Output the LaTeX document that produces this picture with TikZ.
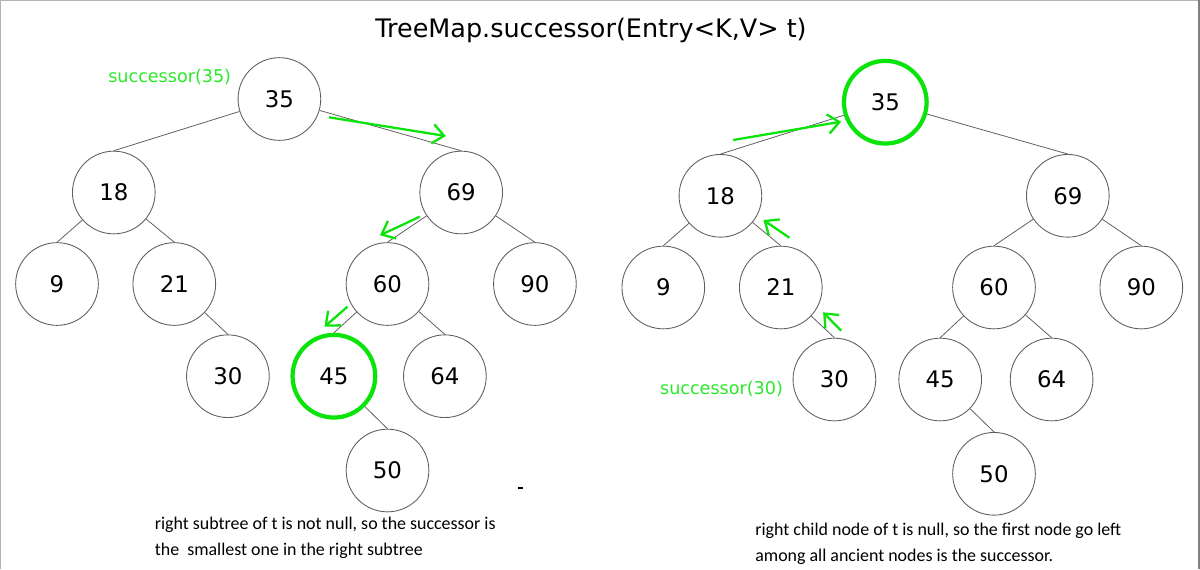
\documentclass[tikz,border=0pt]{standalone}
\usepackage{fontspec}
\setmainfont{DejaVu Sans}
\newfontfamily\notefont{Carlito}
\usepackage{xcolor}
\usetikzlibrary{arrows.meta}
\definecolor{walkgreen}{RGB}{10,228,10}
\definecolor{hintgreen}{RGB}{40,235,40}
\definecolor{ringgray}{RGB}{95,95,95}
\definecolor{framegray}{RGB}{180,180,180}

\begin{document}
\begin{tikzpicture}[x=0.02cm, y=-0.02cm]

% TikZ styles
\tikzset{
  treenode/.style={circle, draw=ringgray, line width=0.5pt, minimum size=1.654cm, inner sep=0pt, font=\fontsize{13}{15}\selectfont},
  found/.style={treenode, draw=walkgreen, line width=2.4pt},
  edge/.style={draw=ringgray, line width=0.45pt},
  walk/.style={-{Straight Barb[length=6.5pt, width=11pt]}, walkgreen, line width=1.3pt},
  hint/.style={text=hintgreen, font=\fontsize{10}{12}\selectfont},
  note/.style={anchor=west, inner sep=0pt, font=\notefont\fontsize{10.2}{12}\selectfont}
}

\useasboundingbox (0,0) rectangle (1200,569);
\draw[framegray, line width=0.6pt] (0,569) -- (0,0.3) -- (1199,0.3);
\draw[gray, line width=1.2pt] (1198.6,0) -- (1198.6,569);

\node[font=\fontsize{14.5}{17}\selectfont] (title) at (591,30) {TreeMap.successor(Entry<K,V> t)};

%==========================
% linker Baum: rechter Teilbaum
%==========================
\node[treenode] (l35) at (279.4, 99) {35};
\node[treenode] (l18) at (113.8,192.5) {18};
\node[treenode] (l69) at (461.2,192.5) {69};
\node[treenode] (l9)  at (57,  284) {9};
\node[treenode] (l21) at (174.3,284) {21};
\node[treenode] (l60) at (387.5,284) {60};
\node[treenode] (l90) at (534.9,284) {90};
\node[treenode] (l30) at (227.9,376.2) {30};
\node[found]    (l45) at (333.9,376.2) {45};
\node[treenode] (l64) at (444.9,376.2) {64};
\node[treenode] (l50) at (387.5,470.5) {50};

\draw[edge] (l35) -- (l18.north);
\draw[edge] (l35) -- (l69.north);
\draw[edge] (l18) -- (l9.north);
\draw[edge] (l18) -- (l21.north);
\draw[edge] (l21) -- (l30.north);
\draw[edge] (l69) -- (l60.north);
\draw[edge] (l69) -- (l90.north);
\draw[edge] (l60) -- (l45.north);
\draw[edge] (l60) -- (l64.north);
\draw[edge] (l45) -- (l50.north);

\node[hint] (lhint) at (169.7,76.7) {successor(35)};

\coordinate (la1) at (329,117.3);   \coordinate (lb1) at (445.8,136);
\coordinate (la2) at (419.8,216.7); \coordinate (lb2) at (380,235.3);
\coordinate (la3) at (347.5,306.7); \coordinate (lb3) at (324.5,326.7);
\draw[walk] (la1) -- (lb1);
\draw[walk] (la2) -- (lb2);
\draw[walk] (la3) -- (lb3);

\draw[line width=0.9pt] (518,488) -- (522.5,488);

\node[note] (lnote1) at (154.5,525) {right subtree of t is not null, so the successor is};
\node[note] (lnote2) at (154.5,551) {the\ \ smallest one in the right subtree};

%==========================
% rechter Baum: Vorfahren
%==========================
\node[found]    (r35) at (885.3,102.2) {35};
\node[treenode] (r18) at (720.4,195.8) {18};
\node[treenode] (r69) at (1067.8,195.8) {69};
\node[treenode] (r9)  at (663.3,287.5) {9};
\node[treenode] (r21) at (780.8,287.5) {21};
\node[treenode] (r60) at (994,  287.5) {60};
\node[treenode] (r90) at (1141.3,287.5) {90};
\node[treenode] (r30) at (834.4,379.5) {30};
\node[treenode] (r45) at (940.2,379.5) {45};
\node[treenode] (r64) at (1051.6,379.5) {64};
\node[treenode] (r50) at (994,  473.8) {50};

\draw[edge] (r35) -- (r18.north);
\draw[edge] (r35) -- (r69.north);
\draw[edge] (r18) -- (r9.north);
\draw[edge] (r18) -- (r21.north);
\draw[edge] (r21) -- (r30.north);
\draw[edge] (r69) -- (r60.north);
\draw[edge] (r69) -- (r90.north);
\draw[edge] (r60) -- (r45.north);
\draw[edge] (r60) -- (r64.north);
\draw[edge] (r45) -- (r50.north);

\node[hint] (rhint) at (721.5,389) {successor(30)};

\coordinate (ra1) at (733.2,140);   \coordinate (rb1) at (841.1,121.7);
\coordinate (ra2) at (789.4,237.7); \coordinate (rb2) at (763.4,220);
\coordinate (ra3) at (841.1,330.7); \coordinate (rb3) at (823.1,312.3);
\draw[walk] (ra1) -- (rb1);
\draw[walk] (ra2) -- (rb2);
\draw[walk] (ra3) -- (rb3);

\node[note] (rnote1) at (755,531) {right child node of t is null, so the first node go left};
\node[note] (rnote2) at (755,557) {among all ancient nodes is the successor.};
\end{tikzpicture}
\end{document}
